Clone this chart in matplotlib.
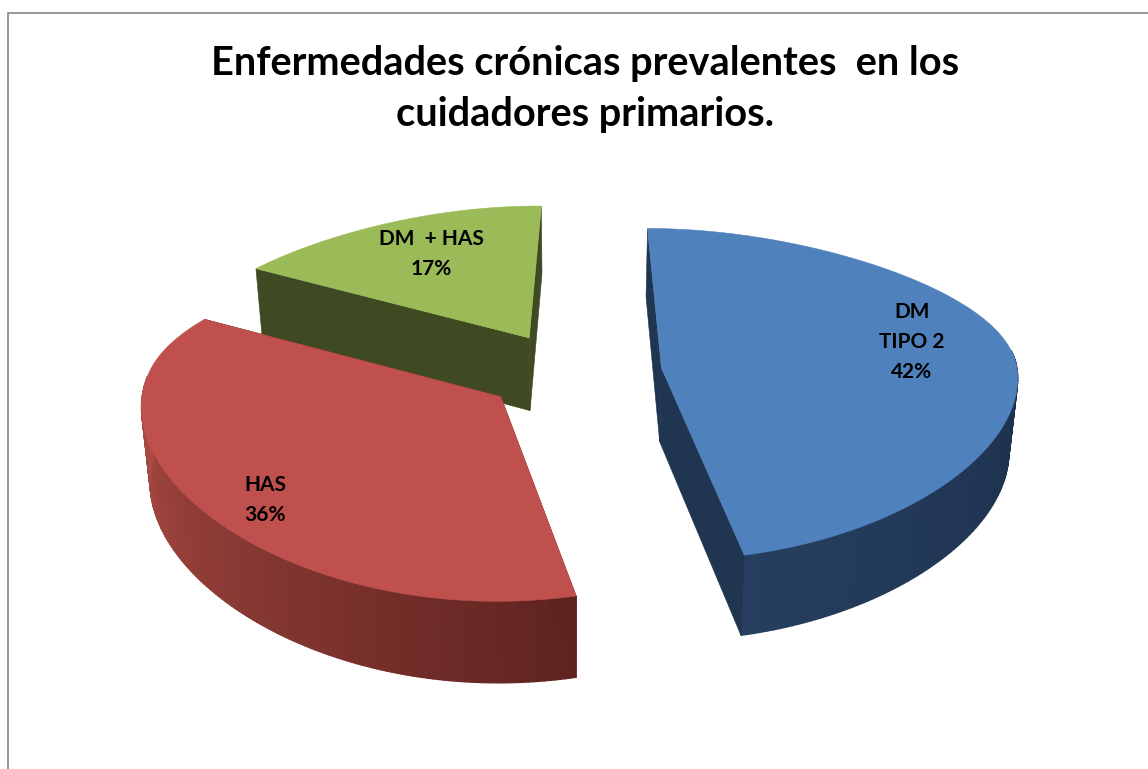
import numpy as np
import matplotlib
matplotlib.use("Agg")
import matplotlib.pyplot as plt
from matplotlib.colors import to_rgb
from matplotlib.patches import Polygon

labels = ["DM\nTIPO 2\n42%", "HAS\n36%", "DM  + HAS\n17%"]
values = [46.5, 36.5, 17]
title = "Enfermedades crónicas prevalentes  en los\ncuidadores primarios."

top_colors = ["#4F81BD", "#C0504D", "#9BBB59"]
wall_start = ["#273E60", "#5F2320", "#3F4A22"]
wall_end = ["#1B2F4A", "#AE4C44", "#3F4A22"]
radial_colors = ["#1F3550", "#5F2320", "#3F4A22"]
explode = [0.25, 0.25, 0.25]
label_xy = [(912, 342), (265, 500), (431, 254)]

W, H = 1148, 769
CX, CY, A, B, K, KX, DEPTH, KD = 573, 372, 356, 163, 0.16, 0.05, 74, 0.08
KX_BACK = 0.17
SHRINK = 0.98
START = np.radians(0.5)

fig = plt.figure(figsize=(W / 100, H / 100), dpi=100)
ax = fig.add_axes([0, 0, 1, 1])
ax.set_xlim(0, W)
ax.set_ylim(H, 0)
ax.axis("off")
plt.rcParams["font.family"] = ["Lato", "DejaVu Sans"]


def project(u, v, low=False):
    x = CX + A * u / (1 + KX * v + KX_BACK * max(v, 0) ** 2)
    y = CY - B * v / (1 + K * v)
    if low:
        x = CX + (x - CX) * SHRINK
        y = y + DEPTH / (1 + KD * v)
    return float(x), float(y)


def wedge(th0, th1, e):
    mid = (th0 + th1) / 2
    ox, oy = e * np.sin(mid), e * np.cos(mid)
    th = np.linspace(th0, th1, 160)
    return ox, oy, th, ox + np.sin(th), oy + np.cos(th)


fractions = np.array(values, float) / sum(values)
edges = START + np.concatenate([[0], np.cumsum(fractions)]) * 2 * np.pi
order = [2, 0, 1]

for i in order:
    ox, oy, th, u, v = wedge(edges[i], edges[i + 1], explode[i])
    c0, c1 = np.array(to_rgb(wall_start[i])), np.array(to_rgb(wall_end[i]))
    face = v - oy < 0.12
    th_vis = th[face]
    for j in range(len(th) - 1):
        if not face[j]:
            continue
        t = abs(th[j] - edges[1]) / max(abs(th_vis[-1] - th_vis[0]), 1e-6)
        col = c0 + (c1 - c0) * min(t, 1)
        p = [project(u[j], v[j]), project(u[j + 1], v[j + 1]),
             project(u[j + 1], v[j + 1], True), project(u[j], v[j], True)]
        ax.add_patch(Polygon(p, closed=True, fc=col, ec=col, lw=1.0))
    for k in (0, -1):
        p = [project(ox, oy), project(u[k], v[k]),
             project(u[k], v[k], True), project(ox, oy, True)]
        ax.add_patch(Polygon(p, closed=True, fc=radial_colors[i], ec=radial_colors[i], lw=0.4))
    outline = [project(ox, oy)] + [project(a, b) for a, b in zip(u, v)]
    ax.add_patch(Polygon(outline, closed=True, fc=top_colors[i], ec=top_colors[i], lw=0.4))

for s, (x, y) in zip(labels, label_xy):
    ax.text(x, y, s, ha="center", va="center", fontsize=15, fontweight="bold",
            color="black", linespacing=1.6)

ax.text(585, 89, title, ha="center", va="center", fontsize=28.6, fontweight="bold",
        color="black", linespacing=1.47)

ax.plot([7.5, 7.5, W], [H, 12.5, 12.5], color="#868686", lw=1.2, solid_joinstyle="miter")

fig.savefig("out.png", dpi=100)
